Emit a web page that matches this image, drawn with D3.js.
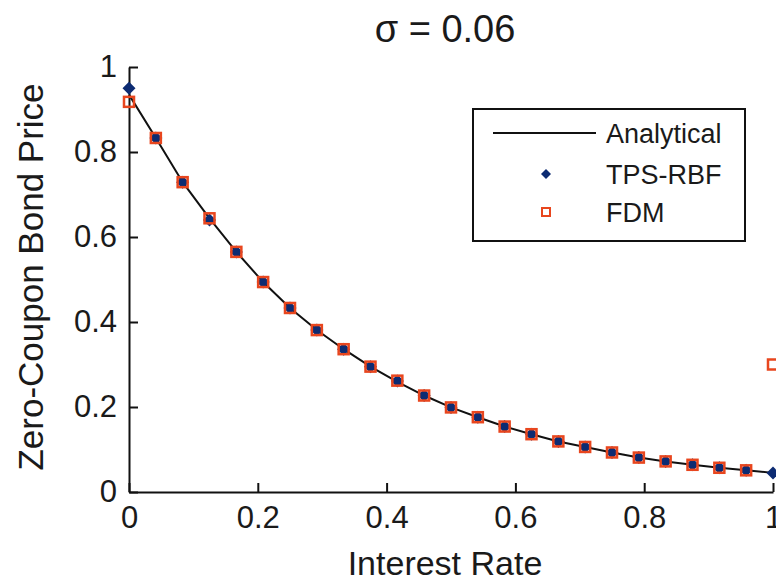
<!DOCTYPE html>
<html>
<head>
<meta charset="utf-8">
<script src="https://cdn.jsdelivr.net/npm/d3@7"></script>
<style>
  body { margin: 0; background: #fff; }
  svg { display: block; }
  text { font-family: "Liberation Sans", Arial, sans-serif; fill: #1a1a1a; }
</style>
</head>
<body>
<div id="chart"></div>
<script>
// values
const rates = [0, 0.0417, 0.0833, 0.125, 0.1667, 0.2083, 0.25, 0.2917, 0.3333, 0.375,
  0.4167, 0.4583, 0.5, 0.5417, 0.5833, 0.625, 0.6667, 0.7083, 0.75, 0.7917,
  0.8333, 0.875, 0.9167, 0.9583, 1];
const analytical = [0.935, 0.833, 0.729, 0.644, 0.565, 0.494, 0.433, 0.381, 0.336, 0.295,
  0.259, 0.227, 0.199, 0.176, 0.154, 0.136, 0.119, 0.106, 0.093, 0.081,
  0.072, 0.064, 0.057, 0.051, 0.045];
const tpsRbf = [0.95, 0.833, 0.729, 0.640, 0.565, 0.494, 0.433, 0.381, 0.336, 0.295,
  0.261, 0.227, 0.199, 0.176, 0.154, 0.136, 0.119, 0.106, 0.093, 0.081,
  0.072, 0.064, 0.057, 0.051, 0.045];
const fdm = [0.918, 0.833, 0.729, 0.644, 0.565, 0.494, 0.433, 0.381, 0.336, 0.295,
  0.262, 0.227, 0.199, 0.176, 0.154, 0.136, 0.119, 0.106, 0.093, 0.081,
  0.072, 0.064, 0.057, 0.051, 0.30];
const xTicks = [0, 0.2, 0.4, 0.6, 0.8, 1];
const yTicks = [0, 0.2, 0.4, 0.6, 0.8, 1];
const legendLabels = ["Analytical", "TPS-RBF", "FDM"];

const W = 776, H = 582;
const navy = "#0c2b72", red = "#e8461e";

const svg = d3.select("#chart").append("svg")
    .attr("width", W)
    .attr("height", H);

const x = d3.scaleLinear().domain([0, 1]).range([129, 773]);
const y = d3.scaleLinear().domain([0, 1]).range([492, 67]);

// axes, MATLAB style: ticks point inward
const xAxis = d3.axisBottom(x).tickValues(xTicks).tickFormat(d3.format("~g"))
    .tickSizeInner(-9).tickSizeOuter(0).tickPadding(14);
const yAxis = d3.axisLeft(y).tickValues(yTicks).tickFormat(d3.format("~g"))
    .tickSizeInner(-9).tickSizeOuter(0).tickPadding(14);

const gx = svg.append("g").attr("transform", `translate(0,${y(0)})`).call(xAxis);
const gy = svg.append("g").attr("transform", `translate(${x(0)},0)`).call(yAxis);

[gx, gy].forEach(g => {
    g.select(".domain").attr("stroke", "#111").attr("stroke-width", 2);
    g.selectAll(".tick line").attr("stroke", "#111").attr("stroke-width", 2);
    g.selectAll(".tick text")
        .attr("font-size", "31px")
        .attr("font-family", "Liberation Sans, Arial, sans-serif")
        .attr("fill", "#1a1a1a");
});
gy.selectAll(".tick text").attr("dx", 2);

// analytical curve
const line = d3.line()
    .x((d, i) => x(rates[i]))
    .y(d => y(d));

svg.append("path")
    .datum(analytical)
    .attr("d", line)
    .attr("fill", "none")
    .attr("stroke", "#111")
    .attr("stroke-width", 2);

const diamond = (cx, cy, r) => `M${cx},${cy - r}L${cx + r},${cy}L${cx},${cy + r}L${cx - r},${cy}Z`;

// TPS-RBF markers
svg.append("g").selectAll("path")
    .data(tpsRbf)
    .enter().append("path")
    .attr("d", (d, i) => diamond(x(rates[i]), y(d), 6.5))
    .attr("fill", navy);

// FDM markers
svg.append("g").selectAll("rect")
    .data(fdm)
    .enter().append("rect")
    .attr("x", (d, i) => x(rates[i]) - 5)
    .attr("y", d => y(d) - 5)
    .attr("width", 10)
    .attr("height", 10)
    .attr("fill", "none")
    .attr("stroke", red)
    .attr("stroke-width", 2.5);

// title and axis labels
svg.append("text")
    .attr("x", 445).attr("y", 42)
    .attr("text-anchor", "middle")
    .attr("font-size", "38px")
    .text("σ = 0.06");

svg.append("text")
    .attr("x", 445).attr("y", 575)
    .attr("text-anchor", "middle")
    .attr("font-size", "34px")
    .text("Interest Rate");

svg.append("text")
    .attr("transform", "translate(43,277) rotate(-90)")
    .attr("text-anchor", "middle")
    .attr("font-size", "35px")
    .text("Zero-Coupon Bond Price");

// legend
const lg = svg.append("g");
lg.append("rect")
    .attr("x", 473).attr("y", 109)
    .attr("width", 272).attr("height", 132)
    .attr("fill", "#fff")
    .attr("stroke", "#111")
    .attr("stroke-width", 2);

const rowY = [133, 174, 212];
lg.append("line")
    .attr("x1", 493).attr("x2", 596)
    .attr("y1", rowY[0]).attr("y2", rowY[0])
    .attr("stroke", "#111").attr("stroke-width", 2);
lg.append("path")
    .attr("d", diamond(546, rowY[1], 5))
    .attr("fill", navy);
lg.append("rect")
    .attr("x", 542).attr("y", rowY[2] - 4)
    .attr("width", 8).attr("height", 8)
    .attr("fill", "none")
    .attr("stroke", red)
    .attr("stroke-width", 2);

lg.selectAll("text.lbl")
    .data(legendLabels)
    .enter().append("text")
    .attr("class", "lbl")
    .attr("x", 606)
    .attr("y", (d, i) => rowY[i] + 10)
    .attr("font-size", "27px")
    .text(d => d);
</script>
</body>
</html>
